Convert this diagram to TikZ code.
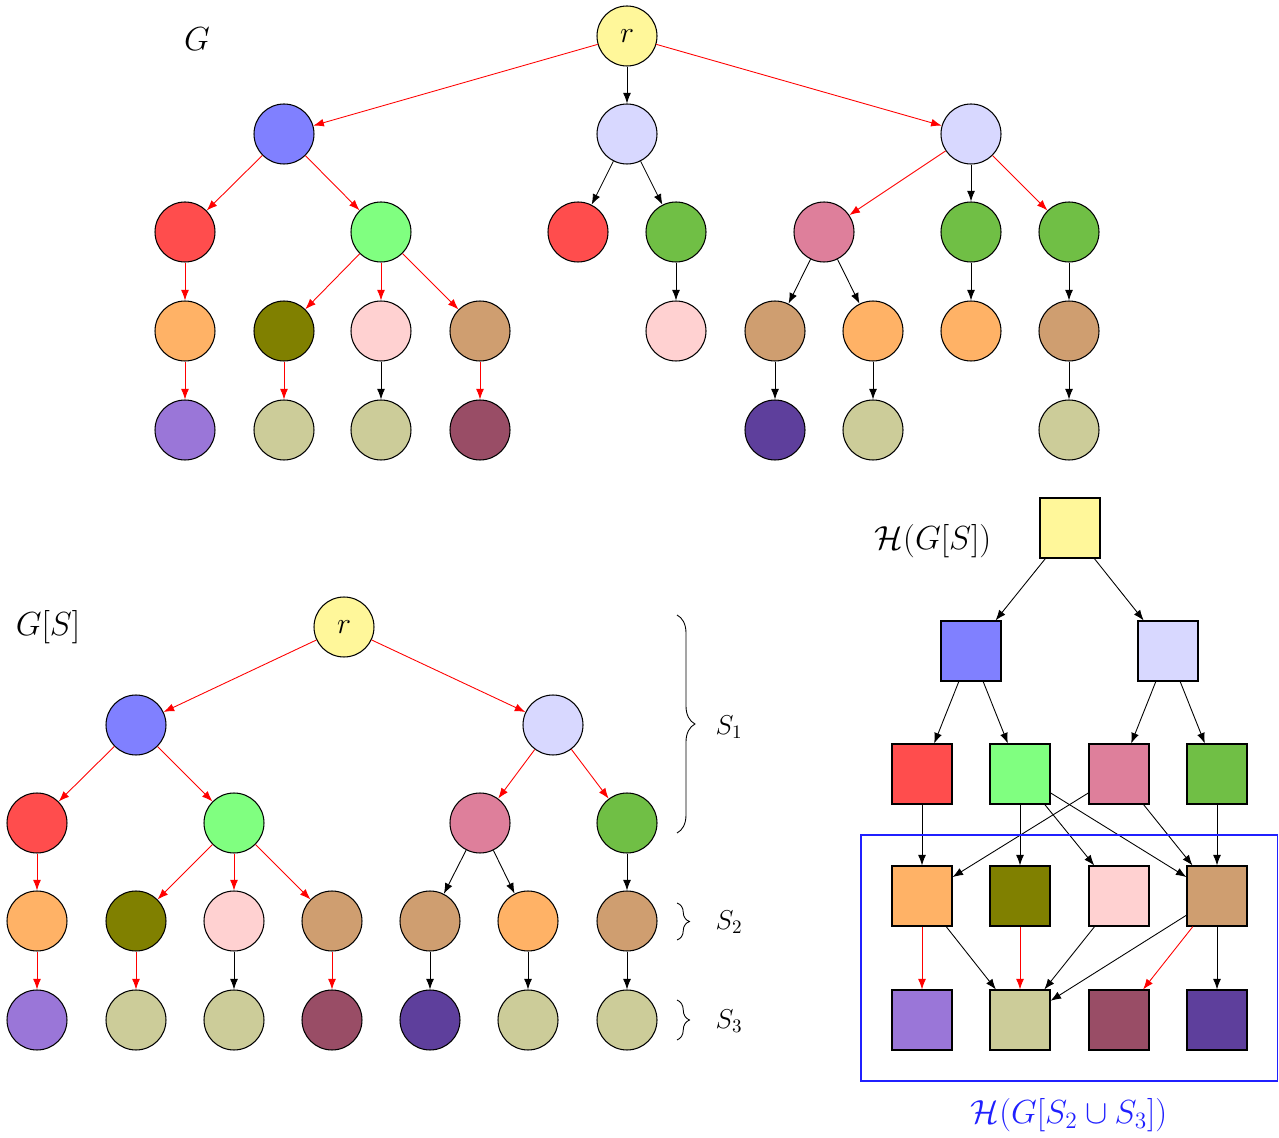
\RequirePackage{fix-cm}
\documentclass[tikz,border=0pt]{standalone}
\usetikzlibrary{arrows.meta,decorations.pathreplacing}
\definecolor{cyel}{HTML}{FFF79A}
\definecolor{cblue}{HTML}{8080FF}
\definecolor{clav}{HTML}{D8D8FF}
\definecolor{cred}{HTML}{FF4D4D}
\definecolor{clgreen}{HTML}{80FF80}
\definecolor{cgreen}{HTML}{70BF45}
\definecolor{cpink}{HTML}{DE7F9B}
\definecolor{corange}{HTML}{FFB266}
\definecolor{colive}{HTML}{808000}
\definecolor{clpink}{HTML}{FFD1D1}
\definecolor{ctan}{HTML}{CF9E70}
\definecolor{cpurple}{HTML}{9A76D8}
\definecolor{ckhaki}{HTML}{CCCC99}
\definecolor{cmaroon}{HTML}{994D66}
\definecolor{cdpurple}{HTML}{5E3F9C}
\definecolor{cframe}{HTML}{2020FF}
\begin{document}
\begin{tikzpicture}[x=0.02cm,y=-0.02cm,
  cn/.style={circle, draw, minimum size=1.2cm, inner sep=0pt, line width=0.6pt},
  sq/.style={rectangle, draw, minimum size=1.2cm, inner sep=0pt, line width=0.6pt},
  ea/.style={-{Latex[length=6pt,width=4.5pt]}, line width=0.5pt},
  ra/.style={ea, red},
  lbl/.style={font=\fontsize{19}{23}\selectfont},
  slbl/.style={font=\fontsize{15.5}{19}\selectfont},
  rlbl/.style={font=\fontsize{17}{20}\selectfont},
  brc/.style={decorate, line width=0.5pt}]
\useasboundingbox (0,0) rectangle (1279,1138);

% ---------- top tree G ----------
\node[lbl] (lG) at (197,39) {$G$};
\node[cn,fill=cyel,rlbl] (t0) at (627,36) {$r$};
\node[cn,fill=cblue] (t1a) at (284,134) {};
\node[cn,fill=clav] (t1b) at (627,134) {};
\node[cn,fill=clav] (t1c) at (971,134) {};
\node[cn,fill=cred] (t2a) at (185,232) {};
\node[cn,fill=clgreen] (t2b) at (381,232) {};
\node[cn,fill=cred] (t2c) at (578,232) {};
\node[cn,fill=cgreen] (t2d) at (676,232) {};
\node[cn,fill=cpink] (t2e) at (824,232) {};
\node[cn,fill=cgreen] (t2f) at (971,232) {};
\node[cn,fill=cgreen] (t2g) at (1069,232) {};
\node[cn,fill=corange] (t3a) at (185,331) {};
\node[cn,fill=colive] (t3b) at (284,331) {};
\node[cn,fill=clpink] (t3c) at (381,331) {};
\node[cn,fill=ctan] (t3d) at (480,331) {};
\node[cn,fill=clpink] (t3e) at (676,331) {};
\node[cn,fill=ctan] (t3f) at (775,331) {};
\node[cn,fill=corange] (t3g) at (873,331) {};
\node[cn,fill=corange] (t3h) at (971,331) {};
\node[cn,fill=ctan] (t3i) at (1069,331) {};
\node[cn,fill=cpurple] (t4a) at (185,430) {};
\node[cn,fill=ckhaki] (t4b) at (284,430) {};
\node[cn,fill=ckhaki] (t4c) at (381,430) {};
\node[cn,fill=cmaroon] (t4d) at (480,430) {};
\node[cn,fill=cdpurple] (t4e) at (775,430) {};
\node[cn,fill=ckhaki] (t4f) at (873,430) {};
\node[cn,fill=ckhaki] (t4g) at (1069,430) {};

\draw[ra] (t0) -- (t1a);
\draw[ea] (t0) -- (t1b);
\draw[ra] (t0) -- (t1c);
\draw[ra] (t1a) -- (t2a);
\draw[ra] (t1a) -- (t2b);
\draw[ea] (t1b) -- (t2c);
\draw[ea] (t1b) -- (t2d);
\draw[ra] (t1c) -- (t2e);
\draw[ea] (t1c) -- (t2f);
\draw[ra] (t1c) -- (t2g);
\draw[ra] (t2a) -- (t3a);
\draw[ra] (t2b) -- (t3b);
\draw[ra] (t2b) -- (t3c);
\draw[ra] (t2b) -- (t3d);
\draw[ea] (t2d) -- (t3e);
\draw[ea] (t2e) -- (t3f);
\draw[ea] (t2e) -- (t3g);
\draw[ea] (t2f) -- (t3h);
\draw[ea] (t2g) -- (t3i);
\draw[ra] (t3a) -- (t4a);
\draw[ra] (t3b) -- (t4b);
\draw[ea] (t3c) -- (t4c);
\draw[ra] (t3d) -- (t4d);
\draw[ea] (t3f) -- (t4e);
\draw[ea] (t3g) -- (t4f);
\draw[ea] (t3i) -- (t4g);

% ---------- bottom tree G[S] ----------
\node[lbl] (lGS) at (48,627) {$G[S]$};
\node[cn,fill=cyel,rlbl] (b0) at (344,627) {$r$};
\node[cn,fill=cblue] (b1a) at (136,725) {};
\node[cn,fill=clav] (b1b) at (553,725) {};
\node[cn,fill=cred] (b2a) at (37,823) {};
\node[cn,fill=clgreen] (b2b) at (234,823) {};
\node[cn,fill=cpink] (b2c) at (480,823) {};
\node[cn,fill=cgreen] (b2d) at (627,823) {};
\node[cn,fill=corange] (b3a) at (37,921) {};
\node[cn,fill=colive] (b3b) at (136,921) {};
\node[cn,fill=clpink] (b3c) at (234,921) {};
\node[cn,fill=ctan] (b3d) at (332,921) {};
\node[cn,fill=ctan] (b3e) at (430,921) {};
\node[cn,fill=corange] (b3f) at (528,921) {};
\node[cn,fill=ctan] (b3g) at (627,921) {};
\node[cn,fill=cpurple] (b4a) at (37,1020) {};
\node[cn,fill=ckhaki] (b4b) at (136,1020) {};
\node[cn,fill=ckhaki] (b4c) at (234,1020) {};
\node[cn,fill=cmaroon] (b4d) at (332,1020) {};
\node[cn,fill=cdpurple] (b4e) at (430,1020) {};
\node[cn,fill=ckhaki] (b4f) at (528,1020) {};
\node[cn,fill=ckhaki] (b4g) at (627,1020) {};

\draw[ra] (b0) -- (b1a);
\draw[ra] (b0) -- (b1b);
\draw[ra] (b1a) -- (b2a);
\draw[ra] (b1a) -- (b2b);
\draw[ra] (b1b) -- (b2c);
\draw[ra] (b1b) -- (b2d);
\draw[ra] (b2a) -- (b3a);
\draw[ra] (b2b) -- (b3b);
\draw[ra] (b2b) -- (b3c);
\draw[ra] (b2b) -- (b3d);
\draw[ea] (b2c) -- (b3e);
\draw[ea] (b2c) -- (b3f);
\draw[ea] (b2d) -- (b3g);
\draw[ra] (b3a) -- (b4a);
\draw[ra] (b3b) -- (b4b);
\draw[ea] (b3c) -- (b4c);
\draw[ra] (b3d) -- (b4d);
\draw[ea] (b3e) -- (b4e);
\draw[ea] (b3f) -- (b4f);
\draw[ea] (b3g) -- (b4g);

% braces
\coordinate (s1t) at (677,615);
\coordinate (s1b) at (677,833);
\coordinate (s2t) at (677,903);
\coordinate (s2b) at (677,940);
\coordinate (s3t) at (677,1000);
\coordinate (s3b) at (677,1040);
\draw[brc, decoration={brace, amplitude=0.36cm}] (s1t) -- (s1b);
\draw[brc, decoration={brace, amplitude=0.25cm}] (s2t) -- (s2b);
\draw[brc, decoration={brace, amplitude=0.25cm}] (s3t) -- (s3b);
\node[slbl] (lS1) at (729,727) {$S_1$};
\node[slbl] (lS2) at (729,922) {$S_2$};
\node[slbl] (lS3) at (729,1021) {$S_3$};

% ---------- H(G[S]) ----------
\node[lbl] (lH) at (933,541) {$\mathcal{H}(G[S])$};
\node[sq,fill=cyel] (h0) at (1070,528) {};
\node[sq,fill=cblue] (h1a) at (971,651) {};
\node[sq,fill=clav] (h1b) at (1168,651) {};
\node[sq,fill=cred] (h2a) at (922,774) {};
\node[sq,fill=clgreen] (h2b) at (1020,774) {};
\node[sq,fill=cpink] (h2c) at (1119,774) {};
\node[sq,fill=cgreen] (h2d) at (1217,774) {};
\node[sq,fill=corange] (h3a) at (922,896) {};
\node[sq,fill=colive] (h3b) at (1020,896) {};
\node[sq,fill=clpink] (h3c) at (1119,896) {};
\node[sq,fill=ctan] (h3d) at (1217,896) {};
\node[sq,fill=cpurple] (h4a) at (922,1020) {};
\node[sq,fill=ckhaki] (h4b) at (1020,1020) {};
\node[sq,fill=cmaroon] (h4c) at (1119,1020) {};
\node[sq,fill=cdpurple] (h4d) at (1217,1020) {};

\draw[ea] (h0) -- (h1a);
\draw[ea] (h0) -- (h1b);
\draw[ea] (h1a) -- (h2a);
\draw[ea] (h1a) -- (h2b);
\draw[ea] (h1b) -- (h2c);
\draw[ea] (h1b) -- (h2d);
\draw[ea] (h2a) -- (h3a);
\draw[ea] (h2b) -- (h3b);
\draw[ea] (h2b) -- (h3c);
\draw[ea] (h2b) -- (h3d);
\draw[ea] (h2c) -- (h3a);
\draw[ea] (h2c) -- (h3d);
\draw[ea] (h2d) -- (h3d);
\draw[ra] (h3a) -- (h4a);
\draw[ea] (h3a) -- (h4b);
\draw[ra] (h3b) -- (h4b);
\draw[ea] (h3c) -- (h4b);
\draw[ea] (h3d) -- (h4b);
\draw[ra] (h3d) -- (h4c);
\draw[ea] (h3d) -- (h4d);

\draw[cframe, line width=0.6pt] (861,835) rectangle (1277.5,1081);
\node[lbl, text=cframe] (lH2) at (1069,1115) {$\mathcal{H}(G[S_2\cup S_3])$};
\end{tikzpicture}
\end{document}
